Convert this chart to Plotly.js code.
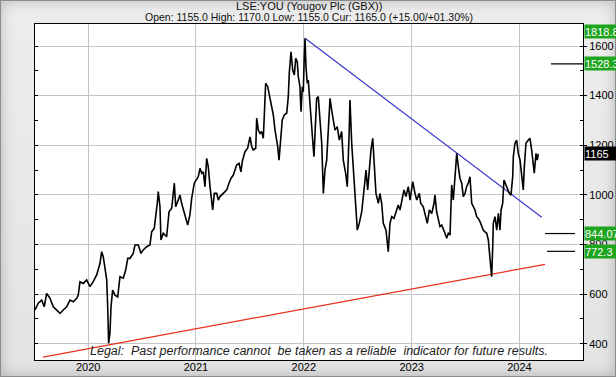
<!DOCTYPE html>
<html><head><meta charset="utf-8">
<script src="https://cdn.plot.ly/plotly-3.0.1.min.js"></script>
<style>
html,body{margin:0;padding:0;background:#fff;}
#wrap{position:relative;width:616px;height:377px;overflow:hidden;background:linear-gradient(to bottom,#ededed,#e3e3e3);}
#frame{position:absolute;left:0;top:0;width:616px;height:377px;box-sizing:border-box;border:1px solid #8c8c8c;box-shadow:inset 0 0 14px rgba(0,0,0,0.22);}
#chart{position:absolute;left:0;top:0;width:616px;height:377px;}
</style></head>
<body><div id="wrap"><div id="frame"></div><div id="chart"></div></div>
<script>
// Price series (decimal year, price in GBX)
const years = [2019.507,2019.537,2019.569,2019.593,2019.615,2019.646,2019.677,2019.708,2019.739,2019.769,2019.801,2019.831,2019.862,2019.894,2019.908,2019.924,2019.955,2019.986,2020.017,2020.047,2020.079,2020.110,2020.125,2020.140,2020.156,2020.172,2020.181,2020.190,2020.202,2020.212,2020.227,2020.249,2020.274,2020.295,2020.326,2020.348,2020.367,2020.388,2020.418,2020.434,2020.465,2020.490,2020.511,2020.543,2020.573,2020.589,2020.613,2020.626,2020.641,2020.650,2020.666,2020.675,2020.697,2020.728,2020.750,2020.775,2020.799,2020.812,2020.836,2020.852,2020.867,2020.882,2020.898,2020.923,2020.944,2020.960,2020.984,2021.006,2021.021,2021.037,2021.053,2021.068,2021.083,2021.099,2021.114,2021.130,2021.146,2021.155,2021.170,2021.192,2021.207,2021.222,2021.253,2021.285,2021.306,2021.325,2021.346,2021.377,2021.399,2021.417,2021.429,2021.454,2021.479,2021.501,2021.517,2021.531,2021.554,2021.563,2021.578,2021.594,2021.609,2021.624,2021.633,2021.646,2021.665,2021.680,2021.696,2021.717,2021.733,2021.758,2021.770,2021.788,2021.800,2021.819,2021.841,2021.856,2021.865,2021.881,2021.897,2021.912,2021.925,2021.939,2021.949,2021.964,2021.974,2021.986,2021.995,2022.004,2022.011,2022.020,2022.032,2022.041,2022.051,2022.064,2022.082,2022.094,2022.104,2022.119,2022.134,2022.150,2022.166,2022.181,2022.196,2022.212,2022.227,2022.243,2022.258,2022.273,2022.289,2022.310,2022.329,2022.351,2022.366,2022.388,2022.403,2022.422,2022.428,2022.444,2022.459,2022.481,2022.496,2022.514,2022.537,2022.558,2022.577,2022.592,2022.607,2022.623,2022.639,2022.651,2022.669,2022.691,2022.706,2022.722,2022.737,2022.762,2022.778,2022.783,2022.799,2022.815,2022.836,2022.861,2022.876,2022.892,2022.908,2022.929,2022.947,2022.969,2022.985,2023.010,2023.031,2023.047,2023.071,2023.084,2023.108,2023.133,2023.145,2023.164,2023.186,2023.207,2023.216,2023.232,2023.247,2023.263,2023.279,2023.293,2023.309,2023.325,2023.340,2023.356,2023.362,2023.371,2023.386,2023.402,2023.418,2023.433,2023.448,2023.464,2023.479,2023.495,2023.510,2023.525,2023.541,2023.557,2023.572,2023.587,2023.603,2023.618,2023.634,2023.650,2023.664,2023.680,2023.696,2023.711,2023.727,2023.736,2023.742,2023.752,2023.757,2023.773,2023.789,2023.804,2023.819,2023.829,2023.844,2023.856,2023.875,2023.887,2023.906,2023.921,2023.937,2023.943,2023.958,2023.974,2023.989,2024.005,2024.021,2024.035,2024.045,2024.060,2024.082,2024.097,2024.113,2024.128,2024.137,2024.153,2024.165,2024.174];
const prices = [536,563,576,549,603,583,549,536,522,536,549,576,569,583,596,650,643,657,630,650,677,724,771,751,697,657,549,402,442,549,616,596,589,670,664,697,744,744,764,798,798,764,778,791,798,851,865,905,966,1013,952,818,845,831,932,946,1047,952,979,999,966,939,912,878,919,986,1047,1060,1073,1107,1087,1093,1033,1147,1113,1033,952,939,1006,1006,979,993,1006,1020,1047,1067,1080,1120,1127,1093,1134,1174,1188,1234,1194,1181,1188,1309,1261,1248,1255,1228,1315,1450,1436,1402,1355,1322,1261,1194,1140,1248,1302,1322,1329,1396,1490,1577,1503,1483,1550,1537,1476,1436,1335,1436,1416,1557,1631,1517,1450,1463,1396,1315,1221,1154,1234,1389,1396,1302,1208,1006,1100,1140,1275,1389,1342,1302,1261,1275,1221,1255,1140,1087,1033,1275,1382,1208,1100,952,858,885,932,1020,1100,1020,1100,1181,1228,1140,1006,966,1006,966,885,858,805,771,885,912,905,939,959,939,979,1020,993,1033,979,1053,1006,979,1006,966,952,912,885,939,925,965,1000,930,895,872,878,865,845,825,845,838,979,1040,979,1067,1167,1113,1067,1047,993,1006,1033,1047,1073,966,952,939,912,905,892,872,858,851,845,818,737,684,670,791,885,912,858,926,858,939,966,1060,1040,1026,1006,999,1073,1154,1208,1221,1167,1140,1087,1020,1113,1208,1221,1228,1181,1113,1087,1167,1140,1165];

// Trend lines
const resistanceX = [2022.011, 2024.206];
const resistanceY = [1631, 910];
const supportX = [2019.581, 2024.237];
const supportY = [346, 720];

// Target levels (value, line start, line end)
const targetValues = [1528.3, 844.07, 772.3];
const targetStart = [2024.292, 2024.237, 2024.255];
const targetEnd = [2024.589, 2024.515, 2024.515];

// Right-hand labels
const labelValues = [1818.8, 1528.3, 1165, 844.07, 772.3];
const labelTexts = ['1818.8', '1528.3', '1165', '844.07', '772.3'];
const labelColors = ['#1ea51e', '#1ea51e', '#000000', '#1ea51e', '#1ea51e'];

// Axes
const xRange = [2019.507, 2024.589];
const yRange = [334.3, 1688.7];
const yearTicks = [2020, 2021, 2022, 2023, 2024];
const yearLabels = ['2020', '2021', '2022', '2023', '2024'];
const yTicks = [400, 600, 800, 1000, 1200, 1400, 1600];
const yAllTicks = [400, 500, 600, 700, 800, 900, 1000, 1100, 1200, 1300, 1400, 1500, 1600];

const FONT = 'Liberation Sans, Arial, sans-serif';

const traces = [];
traces.push({x: supportX, y: supportY, mode: 'lines', line: {color: '#e8301e', width: 1.2}, hoverinfo: 'skip'});
traces.push({x: resistanceX, y: resistanceY, mode: 'lines', line: {color: '#3a3acc', width: 1.2}, hoverinfo: 'skip'});
traces.push({x: years, y: prices, mode: 'lines', line: {color: '#000000', width: 1.6}, hoverinfo: 'skip'});
for (let i = 0; i < targetValues.length; i++) {
  traces.push({x: [targetStart[i], targetEnd[i]], y: [targetValues[i], targetValues[i]], mode: 'lines',
    line: {color: '#000000', width: 1.2}, hoverinfo: 'skip', cliponaxis: false});
}
traces.push({x: [], y: [], yaxis: 'y2'});
traces.push({x: [], y: [], yaxis: 'y3'});

const annotations = [
  {xref: 'paper', yref: 'paper', x: 0.5, y: 1.0536, yanchor: 'middle', xanchor: 'center', showarrow: false,
   text: 'LSE:YOU (Yougov Plc (GBX))', font: {family: FONT, size: 11, color: '#111'}},
  {xref: 'paper', yref: 'paper', x: 0.5, y: 1.0208, yanchor: 'middle', xanchor: 'center', showarrow: false,
   text: 'Open: 1155.0 High: 1170.0 Low: 1155.0 Cur: 1165.0 (+15.00/+01.30%)', font: {family: FONT, size: 10.5, color: '#111'}},
  {xref: 'paper', yref: 'paper', x: 0.0967, y: 0.028, yanchor: 'middle', xanchor: 'left', showarrow: false,
   text: '<i>Legal:  Past performance cannot  be taken as a reliable  indicator for future results.</i>',
   font: {family: FONT, size: 12.5, color: '#222'}}
];
for (let i = 0; i < labelValues.length; i++) {
  const above = labelValues[i] > yRange[1];
  annotations.push({
    xref: 'paper', x: 1, xanchor: 'left', xshift: 1,
    yref: above ? 'paper' : 'y', y: above ? 1 : labelValues[i], yanchor: above ? 'top' : 'middle',
    showarrow: false, text: labelTexts[i], align: 'left', width: 44, height: 13,
    bgcolor: labelColors[i], borderpad: 0,
    font: {family: FONT, size: 11, color: '#ffffff'}
  });
}

const layout = {
  width: 616, height: 377,
  margin: {l: 35, r: 33, t: 24, b: 17, pad: 0},
  paper_bgcolor: 'rgba(0,0,0,0)', plot_bgcolor: '#ffffff',
  showlegend: false,
  font: {family: FONT, size: 11, color: '#000'},
  xaxis: {range: xRange, tickvals: yearTicks, ticktext: yearLabels, showgrid: true, gridcolor: '#c4c4c4', gridwidth: 1,
    zeroline: false, showline: true, mirror: true, linecolor: '#000', linewidth: 1, ticks: '', ticklabelstandoff: -3,
    tickfont: {family: FONT, size: 11, color: '#000'}},
  yaxis: {range: yRange, side: 'right', tickvals: yTicks, showgrid: true, gridcolor: '#c4c4c4', gridwidth: 1,
    zeroline: false, showline: true, mirror: true, linecolor: '#000', linewidth: 1,
    ticks: 'outside', ticklen: 3, tickcolor: '#000', tickfont: {family: FONT, size: 11, color: '#000'}},
  yaxis2: {range: yRange, overlaying: 'y', side: 'left', tickvals: yAllTicks, ticks: 'inside', ticklen: 3, tickcolor: '#000',
    showticklabels: false, showgrid: false, zeroline: false, showline: false},
  yaxis3: {range: yRange, overlaying: 'y', side: 'right', tickvals: yAllTicks, ticks: 'inside', ticklen: 3, tickcolor: '#000',
    showticklabels: false, showgrid: false, zeroline: false, showline: false},
  annotations: annotations
};

Plotly.newPlot('chart', traces, layout, {displayModeBar: false, staticPlot: true});
</script>
</body></html>
